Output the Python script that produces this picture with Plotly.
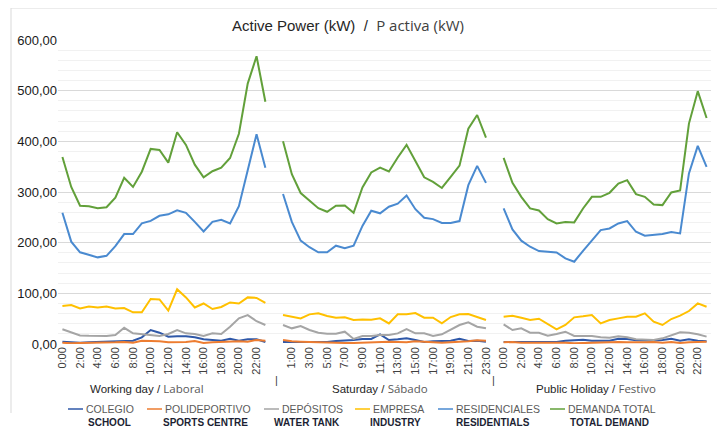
import plotly.graph_objects as go

hours = ["0:00", "1:00", "2:00", "3:00", "4:00", "5:00", "6:00", "7:00", "8:00", "9:00", "10:00", "11:00",
         "12:00", "13:00", "14:00", "15:00", "16:00", "17:00", "18:00", "19:00", "20:00", "21:00", "22:00", "23:00"]
day_labels = ["Working day / ", "Laboral", "Saturday / ", "Sábado", "Public Holiday / ", "Festivo"]

series_names = ["COLEGIO", "POLIDEPORTIVO", "DEPÓSITOS", "EMPRESA", "RESIDENCIALES", "DEMANDA TOTAL"]
series_names_en = ["SCHOOL", "SPORTS CENTRE", "WATER TANK", "INDUSTRY", "RESIDENTIALS", "TOTAL DEMAND"]
series_colors = ["#2f58a8", "#ed7d31", "#a5a5a5", "#ffc000", "#4a8ad0", "#62a03a"]

# Working day / Laboral
colegio_lab = [4.6, 3.3, 2.6, 3.3, 4, 3.3, 4, 5.3, 6.6, 13.1, 27.6, 22.3, 14.5, 15.1, 15.1, 13.1, 9.2, 7.9, 6.6, 10.5, 6.6, 9.2, 9.2, 4]
polidep_lab = [2.6, 1.3, 2, 2, 3.3, 2.6, 3.3, 4, 2.6, 6.6, 6.6, 5.3, 3.3, 3.3, 4, 5.9, 2, 3.3, 4, 3.3, 5.3, 4.6, 7.9, 6.6]
depositos_lab = [29, 23, 17, 16.4, 15.8, 16, 17.7, 32, 21, 19.7, 17.7, 16, 19.7, 27.6, 21, 19.7, 16, 21, 19.7, 34, 50.6, 57, 45, 37.5]
empresa_lab = [75, 77, 70, 74, 72, 74, 70, 71, 62.5, 62.5, 89, 88, 66, 108, 92, 72, 80, 69, 73, 82, 80, 92, 91, 81]
resid_lab = [259, 202, 181, 175.5, 171, 174, 193, 217, 217, 238, 243, 253, 256, 264, 259, 241, 222, 241, 245, 238, 272, 343, 414, 348]
total_lab = [369, 310, 273, 272, 268, 270, 289, 328, 310, 340, 385, 383, 358, 418, 393, 354, 329, 341, 348, 367, 415, 514, 568, 478]

# Saturday / Sábado
colegio_sat = [4, 4, 4, 3.3, 3.3, 4, 5.9, 6.6, 7.9, 9.9, 9.9, 19.1, 7.9, 9.2, 11.2, 7.9, 4, 5.3, 6.6, 6.6, 10.5, 5.9, 6.6, 4.6]
polidep_sat = [7.9, 5.3, 4.6, 4, 2.6, 2, 2, 2, 2, 2.6, 4, 4.6, 4.6, 4, 3.3, 5.3, 4, 2.6, 2.6, 3.3, 4, 5.3, 7.2, 6.6]
depositos_sat = [37.5, 30.9, 35.5, 27.6, 22.3, 20.4, 20.4, 24.3, 9.9, 15.8, 15.8, 17.7, 17.7, 21, 29.6, 21, 21, 15.8, 19.1, 28.9, 37.5, 42.7, 34.2, 30.9]
empresa_sat = [57.2, 53.9, 50.6, 58.5, 60.5, 55.2, 51.9, 52.6, 47.3, 48.6, 48, 50.6, 40.7, 58.5, 58.5, 61.1, 51.9, 51.9, 40.7, 53.2, 58.5, 59.2, 53.9, 47.3]
resid_sat = [296, 241, 204, 191, 181, 181, 194, 189, 194, 233, 263, 258, 271, 277, 293, 266, 249, 246.5, 239, 239, 242.6, 313.5, 351.6, 318]
total_sat = [400, 335, 298, 283, 268, 261, 273, 273.5, 259, 309, 338.5, 348, 340.5, 368, 393, 361, 329, 320, 308, 330, 352, 425, 452, 407.5]

# Public Holiday / Festivo
colegio_hol = [4, 4, 3.3, 3.3, 4, 4, 4, 6.6, 7.2, 8.5, 6.6, 5.9, 6.6, 10.5, 9.9, 7.2, 6.6, 6.6, 7.9, 10.5, 6.6, 9.2, 6.6, 5.3]
polidep_hol = [3.3, 4, 2.6, 2.6, 2.6, 3.3, 2.6, 2.6, 1.3, 2, 3.3, 4, 4, 4, 3.3, 2.6, 3.3, 4, 2.6, 4, 2, 3.3, 3.3, 4.6]
depositos_hol = [38.8, 27.6, 30.9, 22.3, 22.3, 16.4, 19.7, 24.3, 15.8, 15.8, 15.8, 13.1, 12.5, 15.1, 13.1, 9.2, 7.9, 7.9, 11.2, 17, 23, 22, 19.1, 14.5]
empresa_hol = [53.9, 55.9, 51.9, 47.3, 49.9, 39.4, 28.9, 37.5, 52.6, 54.6, 57.2, 40.7, 47.3, 50.6, 53.9, 53.9, 60.5, 44, 37.5, 49.3, 55.9, 65.1, 80.2, 73.6]
resid_hol = [267.5, 226, 204, 192, 183.4, 182.7, 180.8, 169, 162.4, 184, 205, 224.8, 228, 238, 242.6, 221.5, 213.6, 215, 217, 221, 218.2, 336.6, 391, 349.7]
total_hol = [367.5, 318, 290.5, 267.5, 263.6, 246.5, 238, 241, 240, 267.5, 290.5, 290.5, 298.4, 316.8, 323.4, 295.8, 290.5, 275.4, 274.1, 299, 303, 435, 499, 446]

lab = [colegio_lab, polidep_lab, depositos_lab, empresa_lab, resid_lab, total_lab]
sat = [colegio_sat, polidep_sat, depositos_sat, empresa_sat, resid_sat, total_sat]
hol = [colegio_hol, polidep_hol, depositos_hol, empresa_hol, resid_hol, total_hol]

# category positions: 24 working-day hours, a gap, 24 Saturday hours, a gap, 24 holiday hours
cat_labels = hours + [""] + hours + [""] + hours
x_pos = list(range(len(cat_labels)))
tick_vals = [i for i in x_pos if i % 2 == 0 and cat_labels[i] != ""]
tick_text = [cat_labels[i] for i in tick_vals]

fig = go.Figure()
for k in range(len(series_names)):
    y = lab[k] + [None] + sat[k] + [None] + hol[k]
    fig.add_trace(go.Scatter(x=x_pos, y=y, mode="lines",
                             name=series_names[k] + " / " + series_names_en[k],
                             line=dict(color=series_colors[k], width=2),
                             connectgaps=False, showlegend=False))

# the page body adds an 8px offset; layout positions below are given in window pixels
OFF = 8
W, H = 725 - OFF, 437 - OFF
PL, PR, PT, PB = 58 - OFF, 711 - OFF, 40 - OFF, 344 - OFF


def xp(p):
    return (p - OFF - PL) / float(PR - PL)


def yp(p):
    return (PB - (p - OFF)) / float(PB - PT)


fig.update_layout(
    width=W, height=H,
    margin=dict(l=PL, r=W - PR, t=PT, b=H - PB, autoexpand=False),
    paper_bgcolor="white", plot_bgcolor="white",
    separators=",.",
    font=dict(family="Liberation Sans, Arial, sans-serif", color="#262626"),
    title=dict(
        text="<span style='color:#262626'>Active Power (kW)</span>  /  "
             "<span style='color:#404040;font-family:Open Sans'>P activa (kW)</span>",
        x=(348 - OFF) / W, xanchor="center", xref="container",
        y=1 - (26 - OFF) / H, yanchor="middle", yref="container",
        font=dict(size=15)),
    xaxis=dict(range=[-0.5, 73.5], tickmode="array", tickvals=tick_vals, ticktext=tick_text,
               tickangle=-90, showgrid=False, zeroline=False, showline=False, automargin=False,
               tickfont=dict(size=11, color="#404040"), ticks=""),
    yaxis=dict(range=[0, 600], tickvals=[0, 100, 200, 300, 400, 500, 600], tickformat=".2f",
               showgrid=True, gridcolor="#d9d9d9", gridwidth=1, zeroline=False, showline=False,
               automargin=False, tickfont=dict(size=13, color="#1a1a1a"), ticks="",
               minor=dict(dtick=20, showgrid=True, gridcolor="#f1f1f1", gridwidth=1)),
    showlegend=False,
)

# day-type labels under the axis
day_x = [147, 380, 596]
for j in range(3):
    fig.add_annotation(
        x=xp(day_x[j]), y=yp(388), xref="paper", yref="paper", showarrow=False,
        text="<span style='color:#262626'>" + day_labels[2 * j] + "</span>"
             "<span style='color:#595959;font-family:Open Sans'>" + day_labels[2 * j + 1] + "</span>",
        font=dict(size=11.5), xanchor="center", yanchor="middle")
for sx in [273, 493]:
    fig.add_annotation(x=xp(sx), y=yp(388), xref="paper", yref="paper", showarrow=False,
                       text="|", font=dict(size=11, color="#404040"))

# legend (drawn manually: short line + two-line label)
leg_line_x = [68, 147, 264, 355, 438, 550]
leg_center = [109, 205, 307, 395, 493, 609]
for k in range(len(series_names)):
    x0 = leg_line_x[k]
    fig.add_shape(type="line", xref="paper", yref="paper",
                  x0=xp(x0), x1=xp(x0 + 15), y0=yp(409), y1=yp(409),
                  line=dict(color=series_colors[k], width=1.5))
    fig.add_annotation(x=xp(x0 + 16), y=yp(409), xref="paper", yref="paper", showarrow=False,
                       text=series_names[k], xanchor="left", yanchor="middle",
                       font=dict(size=10.5, color="#5a5a5a"))
    fig.add_annotation(x=xp(leg_center[k]), y=yp(422), xref="paper", yref="paper", showarrow=False,
                       text=series_names_en[k], xanchor="center", yanchor="middle",
                       font=dict(size=10, color="#1c1f33", weight="bold"))

# chart border
fig.add_shape(type="line", xref="paper", yref="paper", x0=xp(11), x1=xp(719),
              y0=yp(8), y1=yp(8), line=dict(color="#d9d9d9", width=1))
fig.add_shape(type="line", xref="paper", yref="paper", x0=xp(11), x1=xp(11),
              y0=yp(8), y1=yp(413), line=dict(color="#d9d9d9", width=1))
fig.add_shape(type="line", xref="paper", yref="paper", x0=xp(719), x1=xp(719),
              y0=yp(8), y1=yp(437), line=dict(color="#d9d9d9", width=1))

fig.write_html("out.html")
